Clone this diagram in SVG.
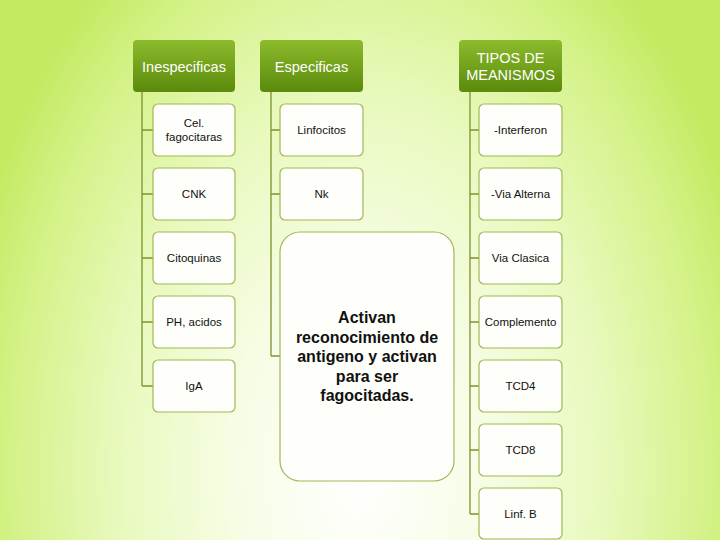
<svg xmlns="http://www.w3.org/2000/svg" width="720" height="540" viewBox="0 0 720 540">
<defs>
<radialGradient id="bg" cx="360" cy="470" r="500" gradientUnits="userSpaceOnUse" gradientTransform="translate(360 470) scale(0.82 1.25) translate(-360 -470)">
<stop offset="0" stop-color="#ffffff"/>
<stop offset="0.3" stop-color="#f6fde6"/>
<stop offset="0.6" stop-color="#e8f9bc"/>
<stop offset="0.85" stop-color="#d4f288"/>
<stop offset="1" stop-color="#c4ea62"/>
</radialGradient>
<linearGradient id="hdr" x1="0" y1="0" x2="0" y2="1">
<stop offset="0" stop-color="#8cbb2c"/>
<stop offset="1" stop-color="#5b8a0c"/>
</linearGradient>
<style>
.hdr{fill:url(#hdr);}
.box{fill:#fefffa;stroke:#a3b655;stroke-width:1.2;}
.ht{font-family:"Liberation Sans",Arial,sans-serif;font-size:14.5px;fill:#ffffff;text-anchor:middle;}
.ct{font-family:"Liberation Sans",Arial,sans-serif;font-size:11.5px;fill:#111;text-anchor:middle;}
.bt{font-family:"Liberation Sans",Arial,sans-serif;font-size:16px;font-weight:bold;fill:#111;text-anchor:middle;}
.conn{stroke:#7d922c;stroke-width:1.3;fill:none;}
</style>
</defs>
<rect width="720" height="540" fill="url(#bg)"/>
<g id="connectors">
<path class="conn" d="M142 92V386M142 130H153M142 194H153M142 258H153M142 322H153M142 386H153"/>
<path class="conn" d="M271 92V356M271 130H280M271 194H280M271 356H280"/>
<path class="conn" d="M470 92V514M470 130H479M470 194H479M470 258H479M470 322H479M470 386H479M470 450H479M470 514H479"/>
</g>
<g id="h1"><rect class="hdr" x="133" y="40" width="102" height="52" rx="4"/><text class="ht" x="184" y="72">Inespecificas</text></g>
<g id="h2"><rect class="hdr" x="260" y="40" width="103" height="52" rx="4"/><text class="ht" x="311.5" y="72">Especificas</text></g>
<g id="h3"><rect class="hdr" x="459" y="40" width="103" height="52" rx="4"/><text class="ht" x="510.5" y="63">TIPOS DE</text><text class="ht" x="510.5" y="80">MEANISMOS</text></g>

<g id="n1"><rect class="box" x="153" y="104" width="82" height="52" rx="5"/><text class="ct" x="194" y="127">Cel.</text><text class="ct" x="194" y="141">fagocitaras</text></g>
<g id="n2"><rect class="box" x="153" y="168" width="82" height="52" rx="5"/><text class="ct" x="194" y="198">CNK</text></g>
<g id="n3"><rect class="box" x="153" y="232" width="82" height="52" rx="5"/><text class="ct" x="194" y="262">Citoquinas</text></g>
<g id="n4"><rect class="box" x="153" y="296" width="82" height="52" rx="5"/><text class="ct" x="194" y="326">PH, acidos</text></g>
<g id="n5"><rect class="box" x="153" y="360" width="82" height="52" rx="5"/><text class="ct" x="194" y="390">IgA</text></g>

<g id="n6"><rect class="box" x="280" y="104" width="83" height="52" rx="5"/><text class="ct" x="321.5" y="134">Linfocitos</text></g>
<g id="n7"><rect class="box" x="280" y="168" width="83" height="52" rx="5"/><text class="ct" x="321.5" y="198">Nk</text></g>
<g id="n8"><rect class="box" x="280" y="232" width="174" height="249" rx="20"/>
<text class="bt" x="367" y="323">Activan</text>
<text class="bt" x="367" y="343">reconocimiento de</text>
<text class="bt" x="367" y="362">antigeno y activan</text>
<text class="bt" x="367" y="382">para ser</text>
<text class="bt" x="367" y="401">fagocitadas.</text></g>

<g id="n9"><rect class="box" x="479" y="104" width="83" height="52" rx="5"/><text class="ct" x="520.5" y="134">-Interferon</text></g>
<g id="n10"><rect class="box" x="479" y="168" width="83" height="52" rx="5"/><text class="ct" x="520.5" y="198">-Via Alterna</text></g>
<g id="n11"><rect class="box" x="479" y="232" width="83" height="52" rx="5"/><text class="ct" x="520.5" y="262">Via Clasica</text></g>
<g id="n12"><rect class="box" x="479" y="296" width="83" height="52" rx="5"/><text class="ct" x="520.5" y="326">Complemento</text></g>
<g id="n13"><rect class="box" x="479" y="360" width="83" height="52" rx="5"/><text class="ct" x="520.5" y="390">TCD4</text></g>
<g id="n14"><rect class="box" x="479" y="424" width="83" height="52" rx="5"/><text class="ct" x="520.5" y="454">TCD8</text></g>
<g id="n15"><rect class="box" x="479" y="488" width="83" height="51" rx="5"/><text class="ct" x="520.5" y="518">Linf. B</text></g>
</svg>
